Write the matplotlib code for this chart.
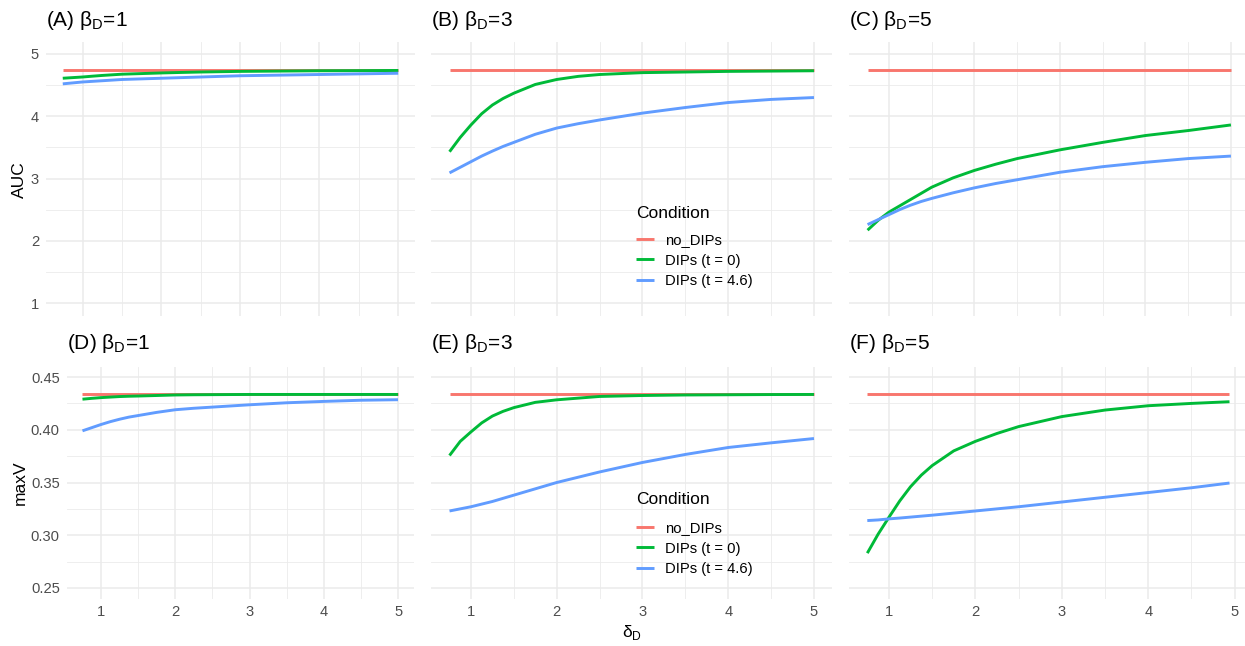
import matplotlib
matplotlib.use("Agg")
import matplotlib.pyplot as plt

plt.rcParams["font.family"] = ["Liberation Sans", "DejaVu Sans"]
plt.rcParams["mathtext.fontset"] = "custom"
plt.rcParams["mathtext.rm"] = "Liberation Sans"

# delta_D grid (panel F stops a little short of 5)
delta = [0.75, 0.875, 1.0, 1.125, 1.25, 1.375, 1.5, 1.75, 2.0, 2.25, 2.5, 3.0, 3.5, 4.0, 4.5, 5.0]
delta_f = [0.75, 0.875, 1.0, 1.125, 1.25, 1.375, 1.5, 1.75, 2.0, 2.25, 2.5, 3.0, 3.5, 4.0, 4.5, 4.94]

conditions = ["no_DIPs", "DIPs (t = 0)", "DIPs (t = 4.6)"]
colors = ["#F8766D", "#00BA38", "#619CFF"]

# AUC
auc_none = 4.74
auc_b1_t0 = [4.61, 4.62, 4.63, 4.643, 4.655, 4.665, 4.675, 4.685, 4.695, 4.703, 4.71, 4.72, 4.725, 4.73, 4.732, 4.735]
auc_b1_t46 = [4.52, 4.535, 4.55, 4.56, 4.57, 4.58, 4.59, 4.60, 4.61, 4.62, 4.63, 4.65, 4.66, 4.67, 4.68, 4.69]
auc_b3_t0 = [3.43, 3.66, 3.86, 4.04, 4.18, 4.285, 4.37, 4.51, 4.59, 4.64, 4.67, 4.70, 4.71, 4.72, 4.725, 4.73]
auc_b3_t46 = [3.09, 3.18, 3.27, 3.36, 3.44, 3.515, 3.58, 3.71, 3.81, 3.88, 3.94, 4.05, 4.14, 4.22, 4.27, 4.30]
auc_b5_t0 = [2.17, 2.33, 2.46, 2.56, 2.66, 2.76, 2.86, 3.01, 3.13, 3.23, 3.32, 3.46, 3.58, 3.69, 3.77, 3.86]
auc_b5_t46 = [2.26, 2.34, 2.42, 2.50, 2.57, 2.63, 2.68, 2.77, 2.85, 2.92, 2.98, 3.10, 3.19, 3.26, 3.32, 3.36]

# maxV
maxv_none = 0.434
maxv_b1_t0 = [0.429, 0.4298, 0.4305, 0.431, 0.4315, 0.4318, 0.432, 0.4325, 0.433, 0.4332, 0.4333,
              0.4335, 0.4335, 0.4335, 0.4335, 0.4335]
maxv_b1_t46 = [0.399, 0.402, 0.405, 0.4077, 0.410, 0.412, 0.4135, 0.4165, 0.419, 0.4204, 0.4215,
               0.4237, 0.4256, 0.4269, 0.428, 0.4285]
maxv_b3_t0 = [0.3756, 0.389, 0.398, 0.4065, 0.413, 0.4175, 0.421, 0.426, 0.4284, 0.430, 0.4316,
              0.4325, 0.433, 0.4332, 0.4334, 0.4335]
maxv_b3_t46 = [0.323, 0.325, 0.327, 0.3295, 0.332, 0.335, 0.338, 0.344, 0.350, 0.355, 0.360,
               0.369, 0.3766, 0.3832, 0.3876, 0.3917]
maxv_b5_t0 = [0.283, 0.301, 0.317, 0.3325, 0.346, 0.357, 0.366, 0.380, 0.389, 0.3965, 0.403,
              0.4125, 0.4187, 0.4228, 0.425, 0.4266]
maxv_b5_t46 = [0.3139, 0.3145, 0.3155, 0.3163, 0.3172, 0.3181, 0.319, 0.321, 0.323, 0.325, 0.327,
               0.3315, 0.336, 0.3405, 0.345, 0.3495]

W, H = 1245, 646
fig = plt.figure(figsize=(W / 100, H / 100), dpi=100)


def add_panel(box):
    l, t, r, b = box
    return fig.add_axes([l / W, 1 - b / H, (r - l) / W, (b - t) / H])


def style(ax, x, yticks, yminor, ylim, show_x, show_y, yfmt):
    lo, hi = min(x), max(x)
    pad = 0.05 * (hi - lo)
    ax.set_xlim(lo - pad, hi + pad)
    ax.set_ylim(*ylim)
    ax.set_xticks([1, 2, 3, 4, 5])
    ax.set_xticks([1.5, 2.5, 3.5, 4.5], minor=True)
    ax.set_yticks(yticks)
    ax.set_yticks(yminor, minor=True)
    ax.set_yticklabels([yfmt.format(v) for v in yticks] if show_y else [])
    ax.set_xticklabels(["1", "2", "3", "4", "5"] if show_x else [])
    ax.tick_params(which="both", length=0, labelsize=10.6, labelcolor="#4D4D4D")
    ax.tick_params(axis="y", pad=5)
    ax.tick_params(axis="x", pad=5)
    ax.grid(True, which="major", color="#EBEBEB", lw=1.1)
    ax.grid(True, which="minor", color="#EBEBEB", lw=0.6)
    ax.set_axisbelow(True)
    for s in ax.spines.values():
        s.set_visible(False)


def draw(ax, x, none_val, t0, t46):
    kw = dict(lw=2.1, solid_capstyle="butt", solid_joinstyle="round")
    h0, = ax.plot(x, [none_val] * len(x), color=colors[0], **kw)
    h1, = ax.plot(x, t0, color=colors[1], **kw)
    h2, = ax.plot(x, t46, color=colors[2], **kw)
    return [h0, h1, h2]


auc_ticks = [1, 2, 3, 4, 5]
auc_minor = [1.5, 2.5, 3.5, 4.5]
mv_ticks = [0.25, 0.30, 0.35, 0.40, 0.45]
mv_minor = [0.275, 0.325, 0.375, 0.425]

top = (41.5, 315.5)
bot = (366.5, 598.5)

panels = [
    ((46, top[0], 415, top[1]), delta, auc_none, auc_b1_t0, auc_b1_t46, "(A) β$_{\\mathrm{D}}$=1", False, True),
    ((431.3, top[0], 832.2, top[1]), delta, auc_none, auc_b3_t0, auc_b3_t46, "(B) β$_{\\mathrm{D}}$=3", False, False),
    ((849.4, top[0], 1249.1, top[1]), delta, auc_none, auc_b5_t0, auc_b5_t46, "(C) β$_{\\mathrm{D}}$=5", False, False),
    ((66.7, bot[0], 413.8, bot[1]), delta, maxv_none, maxv_b1_t0, maxv_b1_t46, "(D) β$_{\\mathrm{D}}$=1", True, True),
    ((431.3, bot[0], 832.2, bot[1]), delta, maxv_none, maxv_b3_t0, maxv_b3_t46, "(E) β$_{\\mathrm{D}}$=3", True, False),
    ((849.2, bot[0], 1247.6, bot[1]), delta_f, maxv_none, maxv_b5_t0, maxv_b5_t46, "(F) β$_{\\mathrm{D}}$=5", True, False),
]

axes = []
for i, (box, x, nv, t0, t46, title, show_x, show_y) in enumerate(panels):
    ax = add_panel(box)
    handles = draw(ax, x, nv, t0, t46)
    if i < 3:
        style(ax, x, auc_ticks, auc_minor, (0.8, 5.2), show_x, show_y, "{:g}")
        base = 25.6
    else:
        style(ax, x, mv_ticks, mv_minor, (0.24, 0.46), show_x, show_y, "{:.2f}")
        base = 348.6
    fig.text(box[0] / W, 1 - base / H, title, fontsize=15, va="baseline", ha="left")
    axes.append((ax, handles))

# y-axis titles
fig.text(19 / W, 1 - 180 / H, "AUC", rotation=90, fontsize=12.5, ha="center", va="center")
fig.text(20 / W, 1 - 483 / H, "maxV", rotation=90, fontsize=12.5, ha="center", va="center")
# x-axis title under the middle column
fig.text(631.8 / W, 1 - 632 / H, "δ$_{\\mathrm{D}}$", fontsize=12.5, ha="center", va="center")

# legends inside panels B and E
for idx, title_y, rows_top in [(1, 213, 233), (4, 500, 521)]:
    ax, handles = axes[idx]
    fig.text(636 / W, 1 - title_y / H, "Condition", fontsize=12.5, ha="left", va="center")
    ax.legend(handles, conditions, loc="upper left",
              bbox_to_anchor=(636 / W, 1 - rows_top / H), bbox_transform=fig.transFigure,
              frameon=False, borderpad=0, borderaxespad=0, handlelength=1.2,
              handletextpad=0.8, labelspacing=0.45, fontsize=10.6)

fig.savefig("out.png", dpi=100)
